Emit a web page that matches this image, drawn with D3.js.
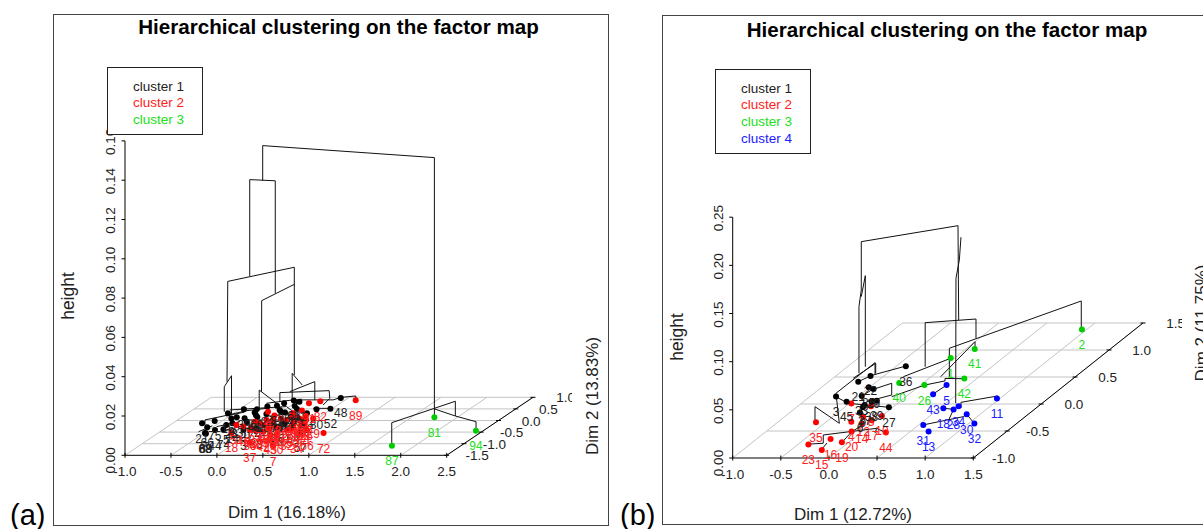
<!DOCTYPE html>
<html>
<head>
<meta charset="utf-8">
<script src="https://cdn.jsdelivr.net/npm/d3@7"></script>
<style>
  html, body { margin: 0; padding: 0; background: #fff; overflow: hidden; }
  text { font-family: "Liberation Sans", Arial, sans-serif; }
</style>
</head>
<body>
<svg id="mainSVG" width="1203" height="529"></svg>
<script>
var title = "Hierarchical clustering on the factor map";
var clusterNames = ["cluster 1", "cluster 2", "cluster 3", "cluster 4"];

// [individual, dim 1, dim 2, cluster]
var pointsA = [
  [21,-.68,-.12,0],[75,-.58,-.02,0],[88,-.48,-.55,0],[68,-.49,-.54,0],[69,-.47,-.57,0],[66,-.56,-.29,0],[74,-.35,-.38,0],[5,-.39,-.19,0],
  [16,-.56,.31,0],[28,-.44,.09,0],[33,-.40,.14,0],[39,-.45,.48,0],[14,-.35,-.12,0],[27,-.22,-.05,0],
  [43,-.28,.34,0],[60,-.31,.48,0],[9,-.23,.24,0],[24,-.24,.60,0],[31,-.15,.64,0],[47,-.13,.28,0],
  [58,-.05,.45,0],[36,-.11,.74,0],[63,-.05,.86,0],[20,.05,.34,0],[80,.34,.48,0],[12,.30,.31,0],
  [52,.48,.51,0],[48,.42,.97,0],[41,.03,.81,0],[38,-.01,-.34,0],[3,-.12,-.41,0],[86,.18,-.26,0],
  [61,.22,-.12,0],[54,.31,-.12,0],[57,.54,-.52,0],[44,-.43,-.41,0],
  [1,-.3,.1,0],[2,-.18,.15,0],[6,-.02,.4,0],[10,.05,.62,0],[23,.12,.5,0],
  [89,.62,.87,1],[82,.25,.83,1],[91,.16,.74,1],[72,.80,-.54,1],[7,.46,-1.10,1],[37,.15,-.95,1],
  [18,-.21,-.52,1],[40,.03,-.44,1],[71,.46,-.19,1],[53,.37,.02,1],[4,-.05,-.12,1],[8,-.15,.38,1],
  [11,-.03,.02,1],[13,.09,-.12,1],[15,.22,-.26,1],[17,.19,.02,1],[19,.15,.31,1],[22,.20,.43,1],
  [25,.30,.09,1],[26,.40,.02,1],[29,.45,.09,1],[30,.32,-.62,1],[32,.35,-.41,1],[34,.51,-.55,1],
  [35,-.05,-.41,1],[42,.12,-.48,1],[45,.25,-.62,1],[46,-.18,-.26,1],[49,.10,.09,1],[50,.38,-.34,1],
  [51,-.28,-.19,1],[55,-.13,-.05,1],[56,.57,-.41,1],[59,.11,-.29,1],
  [64,.02,-.2,1],[65,.28,-.02,1],[67,.33,.2,1],[76,.14,-.35,1],[77,.42,-.18,1],[78,-.02,.22,1],
  [79,.25,-.4,1],[83,.05,0,1],[84,.18,.18,1],[85,.36,-.25,1],[90,.08,-.18,1],[92,.26,.14,1],[93,-.08,-.3,1],
  [87,1.75,-1.09,2],[81,1.75,.14,2],[94,2.42,-.44,2]
];
var pointsB = [
  [35,-.60,-.34,1],[16,-.23,-.65,1],[23,-.39,-.75,1],[15,-.18,-.85,1],[19,-.07,-.71,1],[20,-.11,-.51,1],
  [7,-.48,.01,1],[44,.26,-.53,1],[8,-.24,-.04,1],[10,0,-.22,1],[12,-.18,-.24,1],[4,-.24,-.33,1],
  [14,-.11,-.36,1],[17,-.05,-.30,1],
  [3,-.73,.14,0],[27,-.04,-.06,0],[45,-.55,.04,0],[21,-.69,.41,0],[22,-.64,.52,0],[25,-.51,.31,0],
  [29,-.44,.28,0],[33,-.47,.15,0],[37,-.32,-.02,0],[38,-.29,.04,0],[39,-.25,.06,0],[6,-.27,-.16,0],
  [9,-.31,-.06,0],[36,-.40,.70,0],
  [11,.97,.10,3],[32,1.06,-.36,3],[30,.86,-.19,3],[31,.55,-.39,3],[13,.69,-.51,3],[43,.25,.18,3],
  [18,.54,-.08,3],[28,.66,-.10,3],[34,.67,-.04,3],[5,.27,.35,3],
  [2,.95,1.38,2],[41,.09,1.02,2],[1,-.04,.85,2],[42,.37,.47,2],[26,.04,.35,2],[40,-.25,.39,2]
];

// dendrogram polylines, each node read as [position along dim 1, height] on the front plane
var treeA = [
  [[2.366,.0236],[2.366,.1515],[.498,.1576],[.498,.1397]],
  [[.357,.0912],[.357,.1403],[.635,.1397],[.635,.0824]],
  [[.11,.0375],[.118,.0885],[.842,.0957],[.842,.0409]],
  [[.485,.0322],[.487,.0787],[.842,.087]],
  [[1.902,.0049],[1.902,.0166],[2.594,.0275],[2.594,.02],[2.819,.0171],[2.819,.0125]],
  [[2.594,.02],[2.366,.0236],[2.366,.0193]],
  [[.08,.0222],[.08,.0349],[.159,.0405],[.159,.0205]],
  [[.46,.0239],[.46,.0332],[.649,.0265]],
  [[.685,.0273],[.685,.0319],[1.221,.0329],[1.228,.029],[1.156,.0256]],
  [[.819,.029],[.819,.0417],[.928,.0358]],
  [[.793,.0324],[1.065,.0375],[1.065,.0282]],
  [[-.13,.0154],[-.13,.018],[.123,.0205],[.322,.0227],[.54,.0239]],
  [[.286,.018],[.703,.018],[.703,.0129],[.467,.0129],[.467,.007],[.685,.0078]],
  [[.54,.0265],[.83,.0282],[1.264,.0282],[1.355,.0295],[1.511,.0302],[1.511,.0282]],
  [[1.047,.0239],[1.232,.0239]],
  [[.141,.0231],[.757,.0248],[.83,.0222]],
  [[.286,.0137],[.757,.0146],[.902,.018],[.975,.0095]],
  [[-.004,.0146],[.25,.0171]],
  [[.576,.0197],[.866,.0222],[.866,.0282]],
  [[.431,.0095],[.685,.0112],[.685,.0146]],
  [[.05,.012],[.35,.016],[.35,.009],[.15,.009]],
  [[.4,.012],[.62,.012],[.62,.02],[.52,.02]],
  [[.1,.02],[.3,.022]],
  [[-.2,.012],[-.05,.015]],
  [[.75,.014],[.9,.017],[.9,.012]]
];
var treeB = [
  [[.312,.088],[.312,.1571],[.336,.1745],[.336,.2246],[1.341,.2412],[1.348,.1433]],
  [[.378,.0948],[.378,.1893],[.336,.1675]],
  [[1,.0948],[1,.1405],[1.528,.1443],[1.528,.1243]],
  [[1.251,.0844],[1.251,.1139],[2.622,.163],[2.622,.1329]],
  [[1.161,.0844],[1.518,.1208],[1.518,.1135]],
  [[1.372,.2292],[1.355,.2056],[1.32,.1866],[1.317,.0568]],
  [[.253,.0828],[.486,.0983],[.486,.088]],
  [[.434,.0855],[.801,.0955]],
  [[.773,.0844],[1.265,.1035]],
  [[-.145,.0395],[-.145,.0533],[.108,.036]],
  [[.108,.036],[.073,.0672],[.479,.099],[.479,.0862]],
  [[-.197,.0145],[-.059,.0153],[-.059,.0239],[.496,.0308],[.479,.026]],
  [[-.072,.0093],[-.02,.0156]],
  [[.133,.0159],[.236,.0273],[.323,.0325]],
  [[.461,.0713],[.652,.0776],[.652,.0654],[.392,.0585]],
  [[.201,.0568],[.627,.0526]],
  [[1.753,.0644],[1.372,.0578],[1.372,.0519]],
  [[1.292,.0506],[1.188,.0516]],
  [[1.244,.0395],[1.292,.0498]],
  [[.977,.0343],[1.396,.0429],[1.431,.0454],[1.51,.036]],
  [[.652,.0637],[.998,.0758],[1.206,.08],[1.206,.0826],[1.403,.0823]],
  [[.305,.0792],[.437,.0855]],
  [[.409,.0734],[.461,.0717],[.34,.0644],[.375,.055],[.323,.047]],
  [[.07,.0637],[.201,.0568]],
  [[.59,.0263],[.496,.0308]],
  [[1.078,.0661],[1.224,.0758]]
];

var xTicksA = [-1, -0.5, 0, 0.5, 1, 1.5, 2, 2.5];
var xTicksB = [-1, -0.5, 0, 0.5, 1, 1.5];
var depthTicksA = [-1.5, -1, -0.5, 0, 0.5, 1];
var depthTicksB = [-1, -0.5, 0, 0.5, 1, 1.5];
var heightTicksA = [0, 0.02, 0.04, 0.06, 0.08, 0.10, 0.12, 0.14, 0.16];
var heightTicksB = [0, 0.05, 0.10, 0.15, 0.20, 0.25];

var pointColors = ["#000000", "#ff0000", "#00cd00", "#0000ff"];
var labelColors = ["#222222", "#ff2020", "#20e020", "#2020ff"];
var GRID = "#c4c4c4";

var mainSVG = d3.select("#mainSVG");

function drawPanel(cfg) {
  var g = mainSVG.append("g");
  // R prints a plain hyphen on its ticks
  var f0 = d => d.toFixed(1), fz = d => d.toFixed(2);

  var xScale = d3.scaleLinear().domain(cfg.xDomain).range(cfg.xRange);
  var zScale = d3.scaleLinear().domain(cfg.zDomain).range(cfg.zRange);
  var depthX = d3.scaleLinear().domain(cfg.depthDomain).range([0, cfg.depthDx]);
  var depthY = d3.scaleLinear().domain(cfg.depthDomain).range([0, -cfg.depthDy]);
  var floor = zScale(0);
  var xMin = cfg.xDomain[0], xMax = cfg.xDomain[1];

  // frame
  g.append("rect")
    .attr("x", cfg.frame[0] + 0.5).attr("y", cfg.frame[1] + 0.5)
    .attr("width", cfg.frame[2]).attr("height", cfg.frame[3])
    .attr("fill", "none").attr("stroke", "#444").attr("stroke-width", 1);

  // floor grid
  g.selectAll(null).data(cfg.xTicks).enter().append("line")
    .attr("x1", d => xScale(d)).attr("y1", floor)
    .attr("x2", d => xScale(d) + cfg.depthDx).attr("y2", floor - cfg.depthDy)
    .attr("stroke", GRID);
  g.selectAll(null).data(cfg.depthTicks.slice(1)).enter().append("line")
    .attr("x1", d => xScale(xMin) + depthX(d)).attr("y1", d => floor + depthY(d))
    .attr("x2", d => xScale(xMax) + depthX(d)).attr("y2", d => floor + depthY(d))
    .attr("stroke", GRID);

  // axes
  var axisLines = [
    [xScale(xMin), zScale(cfg.zDomain[1]), xScale(xMin), floor],
    [xScale(xMin), floor, xScale(xMax), floor],
    [xScale(xMax), floor, xScale(xMax) + cfg.depthDx, floor - cfg.depthDy]
  ];
  g.selectAll(null).data(axisLines).enter().append("line")
    .attr("x1", d => d[0]).attr("y1", d => d[1]).attr("x2", d => d[2]).attr("y2", d => d[3])
    .attr("stroke", "#000");

  g.selectAll(null).data(cfg.xTicks).enter().append("line")
    .attr("x1", d => xScale(d)).attr("x2", d => xScale(d))
    .attr("y1", floor - 2.5).attr("y2", floor + 2.5).attr("stroke", "#000");
  g.selectAll(null).data(cfg.xTicks).enter().append("text")
    .attr("x", d => xScale(d)).attr("y", cfg.xLabelY)
    .attr("text-anchor", "middle").attr("font-size", 13.5).attr("fill", "#222")
    .text(f0);

  g.selectAll(null).data(cfg.heightTicks).enter().append("line")
    .attr("x1", xScale(xMin) - 3.5).attr("x2", xScale(xMin))
    .attr("y1", d => zScale(d)).attr("y2", d => zScale(d)).attr("stroke", "#000");
  g.selectAll(null).data(cfg.heightTicks).enter().append("text")
    .attr("transform", d => "translate(" + (xScale(xMin) - 10) + "," + (zScale(d) + (d === 0 ? 5 : 1)) + ") rotate(-90)")
    .attr("text-anchor", "middle").attr("font-size", 13.5).attr("fill", "#222")
    .text(fz);

  // depth axis
  var depthEnd = xScale(xMax);
  g.selectAll(null).data(cfg.depthTicks).enter().append("line")
    .attr("x1", d => depthEnd + depthX(d) - 2.5).attr("x2", d => depthEnd + depthX(d) + 2.5)
    .attr("y1", d => floor + depthY(d)).attr("y2", d => floor + depthY(d))
    .attr("stroke", "#000");

  var clipId = "clip-" + cfg.name;
  mainSVG.append("clipPath").attr("id", clipId).append("rect")
    .attr("x", cfg.frame[0]).attr("y", 0).attr("width", cfg.depthClip - cfg.frame[0]).attr("height", 529);
  g.append("g").attr("clip-path", "url(#" + clipId + ")")
    .selectAll("text").data(cfg.depthTicks).enter().append("text")
    .attr("x", d => depthEnd + depthX(d) + 42)
    .attr("y", d => floor + depthY(d) + 5)
    .attr("text-anchor", "end").attr("font-size", 13.5).attr("fill", "#222")
    .text(f0);

  // dendrogram
  var line = d3.line().x(d => xScale(d[0])).y(d => zScale(d[1]));
  g.selectAll(null).data(cfg.tree).enter().append("path")
    .attr("d", line).attr("fill", "none").attr("stroke", "#111").attr("stroke-width", 1);

  // leaves
  var px = d => xScale(d[1]) + depthX(d[2]);
  var py = d => floor + depthY(d[2]);
  g.selectAll(null).data(cfg.points).enter().append("circle")
    .attr("cx", px).attr("cy", py).attr("r", 3)
    .attr("fill", d => pointColors[d[3]]);
  g.selectAll(null).data(cfg.points).enter().append("text")
    .attr("x", px).attr("y", d => py(d) + 19.5)
    .attr("text-anchor", "middle").attr("font-size", 12)
    .attr("fill", d => labelColors[d[3]])
    .text(d => d[0]);

  // legend
  g.append("rect")
    .attr("x", cfg.legend[0] + 0.5).attr("y", cfg.legend[1] + 0.5)
    .attr("width", cfg.legend[2]).attr("height", cfg.legend[3])
    .attr("fill", "#fff").attr("stroke", "#222");
  g.selectAll(null).data(d3.range(cfg.nClusters)).enter().append("text")
    .attr("x", cfg.legend[0] + 26)
    .attr("y", i => cfg.legend[1] + 23.5 + i * 16.8)
    .attr("font-size", 13.5)
    .attr("fill", i => labelColors[i])
    .text(i => clusterNames[i]);

  // titles
  g.append("text").attr("x", cfg.titlePos[0]).attr("y", cfg.titlePos[1])
    .attr("text-anchor", "middle").attr("font-size", 20.6).attr("font-weight", "bold")
    .text(title);
  g.append("text").attr("x", cfg.dim1Pos[0]).attr("y", cfg.dim1Pos[1])
    .attr("text-anchor", "middle").attr("font-size", 17).attr("fill", "#222")
    .text(cfg.dim1Label);
  g.append("text")
    .attr("transform", "translate(" + cfg.dim2Pos[0] + "," + cfg.dim2Pos[1] + ") rotate(-90)")
    .attr("text-anchor", "middle").attr("font-size", 17).attr("fill", "#222")
    .text(cfg.dim2Label);
  g.append("text")
    .attr("transform", "translate(" + cfg.heightPos[0] + "," + cfg.heightPos[1] + ") rotate(-90)")
    .attr("text-anchor", "middle").attr("font-size", 17.5).attr("fill", "#222")
    .text("height");
  g.append("text").attr("x", cfg.tagPos[0]).attr("y", cfg.tagPos[1])
    .attr("font-size", 29).attr("fill", "#000")
    .text(cfg.tag);
}

drawPanel({
  name: "a", tag: "(a)", tagPos: [10, 525],
  frame: [53, 14, 555, 511],
  xDomain: [-1, 2.5], xRange: [125, 446.7],
  zDomain: [0, 0.16], zRange: [455.3, 140.9],
  depthDomain: [-1.5, 1], depthDx: 86.3, depthDy: 58,
  depthClip: 572,
  xTicks: xTicksA, depthTicks: depthTicksA, heightTicks: heightTicksA,
  xLabelY: 476,
  points: pointsA, tree: treeA, nClusters: 3,
  legend: [107, 67, 95, 67],
  titlePos: [338.5, 34],
  dim1Pos: [287, 518], dim1Label: "Dim 1 (16.18%)",
  dim2Pos: [598, 396], dim2Label: "Dim 2 (13.83%)",
  heightPos: [74, 296]
});

drawPanel({
  name: "b", tag: "(b)", tagPos: [620, 525],
  frame: [662, 15, 560, 509],
  xDomain: [-1, 1.5], xRange: [732.7, 973.3],
  zDomain: [0, 0.25], zRange: [458, 217.2],
  depthDomain: [-1, 1.5], depthDx: 169.7, depthDy: 135,
  depthClip: 1182,
  xTicks: xTicksB, depthTicks: depthTicksB, heightTicks: heightTicksB,
  xLabelY: 479,
  points: pointsB, tree: treeB, nClusters: 4,
  legend: [715, 69, 95, 84],
  titlePos: [947, 37],
  dim1Pos: [853, 520], dim1Label: "Dim 1 (12.72%)",
  dim2Pos: [1207, 323], dim2Label: "Dim 2 (11.75%)",
  heightPos: [683, 337]
});
</script>
</body>
</html>
